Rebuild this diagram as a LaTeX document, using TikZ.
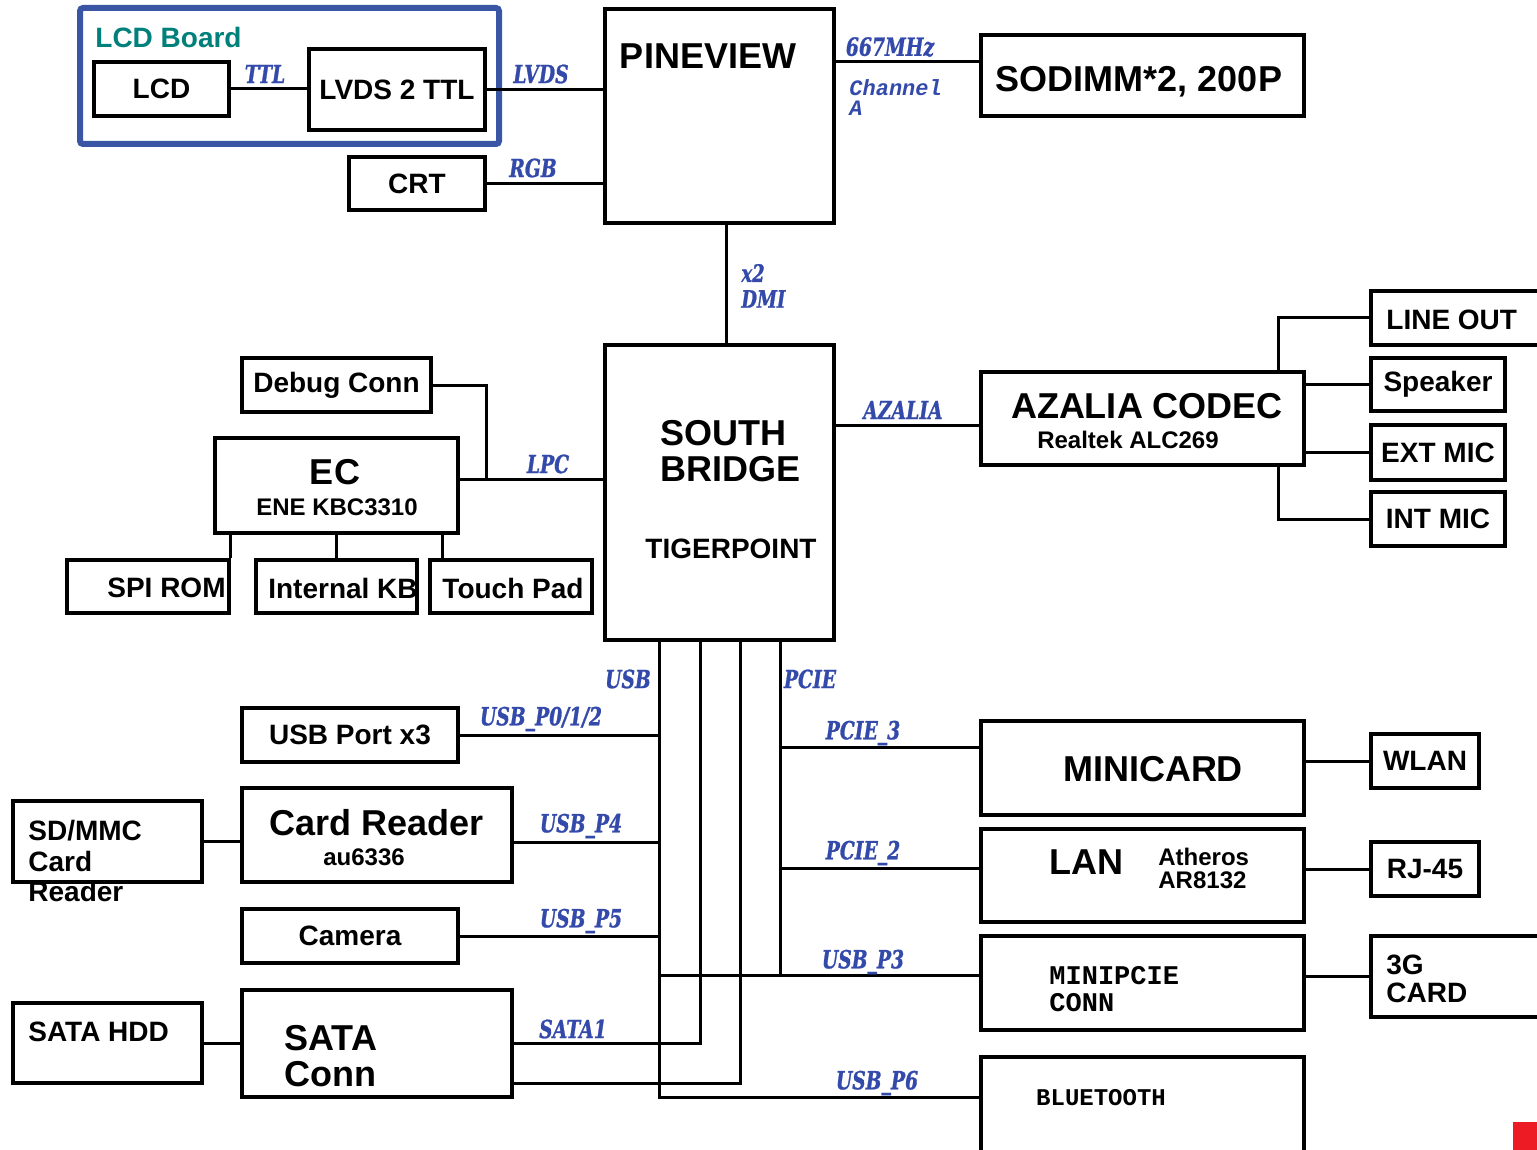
\documentclass[tikz,border=0pt]{standalone}
\usepackage{fontspec}
\setmainfont{Liberation Sans}
\newfontfamily\busfont[FakeStretch=0.75,FakeBold=1]{DejaVu Serif}
\newfontfamily\chanfont{Liberation Mono}
\usetikzlibrary{positioning,calc}
\definecolor{busblue}{RGB}{52,74,170}
\definecolor{frameblue}{RGB}{59,85,165}
\definecolor{boardteal}{RGB}{0,128,122}
\definecolor{markred}{RGB}{237,28,36}
\tikzset{
  blk/.style={draw,line width=1.7pt,inner sep=2pt,font=\bfseries},
  wire/.style={line width=1.5pt},
  lbl/.style={inner sep=0pt},
  t18/.style={font=\fontsize{18}{18}\selectfont\bfseries},
  t14/.style={font=\fontsize{14}{15}\selectfont\bfseries},
  t12/.style={font=\fontsize{12}{13}\selectfont\bfseries},
  mono/.style={inner sep=0pt,font=\chanfont\fontsize{13.5}{13.5}\selectfont\bfseries},
  bus/.style={inner sep=0pt,text=busblue,font=\busfont\fontsize{12.5}{10}\selectfont\bfseries\itshape},
}

\begin{document}
\begin{tikzpicture}[x=0.5pt,y=-0.5pt]
    \useasboundingbox (0,0) rectangle (1537,1150);

    % display side
    \node[draw=frameblue,line width=3pt,rounded corners=1.5pt,minimum width=209.5pt,minimum height=68pt] (board) at (289.5,76) {};
    \node[lbl,t14,anchor=west,text=boardteal] (boardname) at (95,37) {LCD Board};
    \node[blk,t14,minimum width=67.5pt,minimum height=27pt] (lcd) at (161.5,89) {LCD};
    \node[blk,t14,minimum width=88pt,minimum height=40.5pt] (lvds) at (397,89.5) {LVDS 2 TTL};
    \node[blk,t14,minimum width=68pt,minimum height=26.5pt] (crt) at (417,183.5) {CRT};

    % north bridge and memory
    \node[blk,minimum width=114.5pt,minimum height=107pt] (pine) at (719.5,116) {};
    \node[lbl,t18] (pinename) at (708,56) {PINEVIEW};
    \node[blk,minimum width=161.5pt,minimum height=40.5pt] (sodimm) at (1142.5,75.5) {};
    \node[lbl,t18] (sodimmname) at (1139,82) {SODIMM*2, 200P};

    % south bridge
    \node[blk,minimum width=114.5pt,minimum height=147.5pt] (sb) at (719.5,492.5) {};
    \node[lbl,t18,align=left,anchor=west] (sbname) at (660,451) {SOUTH\\BRIDGE};
    \node[lbl,t14] (sbchip) at (731,549) {TIGERPOINT};

    % EC and friends
    \node[blk,t14,minimum width=94.5pt,minimum height=27pt] (debug) at (336.5,385) {Debug Conn};
    \node[blk,minimum width=121.5pt,minimum height=47.5pt] (ec) at (336.5,485.5) {};
    \node[lbl,t18] (ecname) at (335,472) {EC};
    \node[lbl,t12] (ecchip) at (337,507) {ENE KBC3310};
    \node[blk,minimum width=81pt,minimum height=26.5pt] (spi) at (148,586.5) {};
    \node[lbl,t14,anchor=east] (spiname) at (226,588) {SPI ROM};
    \node[blk,minimum width=80.5pt,minimum height=26.5pt] (intkb) at (336.5,586.5) {};
    \node[lbl,t14] (intkbname) at (343,588) {Internal KB};
    \node[blk,minimum width=81pt,minimum height=26.5pt] (touch) at (511,586.5) {};
    \node[lbl,t14] (touchname) at (513,588) {Touch Pad};

    % audio
    \node[blk,minimum width=161.5pt,minimum height=46.5pt] (azalia) at (1142.5,418.5) {};
    \node[lbl,t18] (azname) at (1147,406) {AZALIA CODEC};
    \node[lbl,t12] (azchip) at (1128,440) {Realtek ALC269};
    \node[blk,minimum width=87pt,minimum height=27pt] (lineout) at (1458,318) {};
    \node[lbl,t14,anchor=west] (lineoutname) at (1386,320) {LINE OUT};
    \node[blk,t14,minimum width=67pt,minimum height=26.5pt] (speaker) at (1438,384.5) {Speaker};
    \node[blk,t14,minimum width=67pt,minimum height=27.5pt] (extmic) at (1438,452.5) {EXT MIC};
    \node[blk,t14,minimum width=67pt,minimum height=27pt] (intmic) at (1438,519) {INT MIC};

    % PCIE side
    \node[blk,minimum width=161.5pt,minimum height=47pt] (minicard) at (1142.5,768) {};
    \node[lbl,t18] (minicardname) at (1153,769) {MINICARD};
    \node[blk,t14,minimum width=54pt,minimum height=27pt] (wlan) at (1425,761) {WLAN};
    \node[blk,minimum width=161.5pt,minimum height=46.5pt] (lan) at (1142.5,875.5) {};
    \node[lbl,t18] (lanname) at (1086,862) {LAN};
    \node[lbl,align=left,anchor=west,font=\fontsize{12}{11.5}\selectfont\bfseries] (lanchip) at (1158,868) {Atheros\\AR8132};
    \node[blk,t14,minimum width=54pt,minimum height=27pt] (rj45) at (1425,869) {RJ-45};
    \node[blk,minimum width=161.5pt,minimum height=47pt] (minipcie) at (1142.5,983) {};
    \node[mono,anchor=west] (minipciename) at (1049,976) {MINIPCIE};
    \node[mono,anchor=west] (minipcieconn) at (1049,1003) {CONN};
    \node[blk,minimum width=87pt,minimum height=40.5pt] (card3g) at (1458,976.5) {};
    \node[lbl,align=left,anchor=west,font=\fontsize{14}{14}\selectfont\bfseries] (card3gname) at (1386,979) {3G\\CARD};
    \node[blk,minimum width=161.5pt,minimum height=51.5pt] (bt) at (1142.5,1108.5) {};
    \node[mono,font=\chanfont\fontsize{12}{12}\selectfont\bfseries] (btname) at (1101,1098) {BLUETOOTH};

    % USB / SATA side
    \node[blk,t14,minimum width=108pt,minimum height=27pt] (usbport) at (350,735) {USB Port x3};
    \node[blk,minimum width=135pt,minimum height=47pt] (cardrd) at (377,835) {};
    \node[lbl,t18] (cardrdname) at (377,823) {Card Reader};
    \node[lbl,t12] (cardrdchip) at (364,857) {au6336};
    \node[blk,minimum width=94.5pt,minimum height=40.5pt] (sdmmc) at (107.5,841.5) {};
    \node[lbl,align=left,anchor=west,font=\fontsize{14}{15.25}\selectfont\bfseries] (sdmmcname) at (28,861) {SD/MMC\\Card\\Reader};
    \node[blk,t14,minimum width=108pt,minimum height=27pt] (camera) at (350,936) {Camera};
    \node[blk,minimum width=94.5pt,minimum height=40pt] (satahdd) at (107.5,1043) {};
    \node[lbl,t14,anchor=west] (satahddname) at (28,1032) {SATA HDD};
    \node[blk,minimum width=135pt,minimum height=53.5pt] (sataconn) at (377,1043.5) {};
    \node[lbl,t18,align=left,anchor=west] (sataconnname) at (284,1056) {SATA\\Conn};

    % links
    \draw[wire] (lcd.east) -- (lcd.east -| lvds.west);
    \draw[wire] (lvds.east) -- (lvds.east -| pine.west);
    \draw[wire] (crt.east) -- (crt.east -| pine.west);
    \coordinate (memlink) at ($(sodimm.north west)!0.33!(sodimm.south west)$);
    \draw[wire] (memlink) -- (memlink -| pine.east);
    \draw[wire] ([xshift=3.25pt]pine.south) -- ([xshift=3.25pt]sb.north);

    \coordinate (lpclink) at ([yshift=3.25pt]ec.east);
    \draw[wire] (lpclink) -- (lpclink -| sb.west);
    \draw[wire] (debug.east) -| ($(lpclink)!0.184!(lpclink -| sb.west)$);
    \draw[wire] (spi.north east) -- (spi.north east |- ec.south);
    \draw[wire] (intkb.north) -- (ec.south);
    \draw[wire] ([xshift=7pt]touch.north west) -- ([xshift=7pt]touch.north west |- ec.south);

    \coordinate (hdalink) at ([yshift=-3.25pt]azalia.west);
    \draw[wire] (hdalink) -- (hdalink -| sb.east);
    \draw[wire] (lineout.west) -| ([xshift=-13.5pt]azalia.north east);
    \draw[wire] (speaker.west) -- (speaker.west -| azalia.east);
    \draw[wire] (extmic.west) -- (extmic.west -| azalia.east);
    \draw[wire] (intmic.west) -| ([xshift=-13.5pt]azalia.south east);

    \draw[wire] (wlan.west) -- (wlan.west -| minicard.east);
    \draw[wire] (rj45.west) -- (rj45.west -| lan.east);
    \draw[wire] (card3g.west) -- (card3g.west -| minipcie.east);

    % buses out of the south bridge
    \coordinate (usbbus) at ([xshift=-30.25pt]sb.south);
    \coordinate (satabusa) at ([xshift=-9.75pt]sb.south);
    \coordinate (satabusb) at ([xshift=10.25pt]sb.south);
    \coordinate (pciebus) at ([xshift=30.25pt]sb.south);
    \coordinate (usbp3) at ([yshift=4pt]minipcie.west);
    \coordinate (usbp6) at ([yshift=5.75pt]bt.west);
    \coordinate (pcie3) at ([yshift=10.5pt]minicard.west);
    \coordinate (pcie2) at ([yshift=3.75pt]lan.west);

    \draw[wire] (usbbus) |- (usbp6);
    \draw[wire] (usbbus |- usbp3) -- (usbp3);
    \draw[wire] (pciebus) -- (pciebus |- usbp3);
    \draw[wire] (pciebus |- pcie3) -- (pcie3);
    \draw[wire] (pciebus |- pcie2) -- (pcie2);
    \draw[wire] (usbport.east) -- (usbport.east -| usbbus);
    \draw[wire] ([yshift=-3.5pt]cardrd.east) -- ([yshift=-3.5pt]cardrd.east -| usbbus);
    \draw[wire] (camera.east) -- (camera.east -| usbbus);
    \draw[wire] (satabusa) |- (sataconn.east);
    \draw[wire] (satabusb) |- ([yshift=-19.75pt]sataconn.east);
    \draw[wire] (sdmmc.east) -- (sdmmc.east -| cardrd.west);
    \draw[wire] (satahdd.east) -- (satahdd.east -| sataconn.west);

    % signal names
    \node[bus] (ttl) at (265,74) {TTL};
    \node[bus] (lvdsbus) at (541,74) {LVDS};
    \node[bus] (rgb) at (533,168) {RGB};
    \node[bus] (memclk) at (890,47) {667MHz};
    \node[lbl,align=left,anchor=west,text=busblue,font=\chanfont\fontsize{11}{10}\selectfont\bfseries\itshape] (memch) at (849,98) {Channel\\A};
    \node[bus,anchor=west,font=\busfont\fontsize{12}{10}\selectfont\bfseries\itshape] (dmiwidth) at (741,273) {x2};
    \node[bus,anchor=west,font=\busfont\fontsize{12}{10}\selectfont\bfseries\itshape] (dmi) at (741,299) {DMI};
    \node[bus] (lpc) at (548,464) {LPC};
    \node[bus] (hda) at (903,410) {AZALIA};
    \node[bus] (usb) at (628,679) {USB};
    \node[bus] (pcie) at (810,679) {PCIE};
    \node[bus] (usb012) at (541,719) {USB\_P0/1/2};
    \node[bus] (usb4) at (581,826) {USB\_P4};
    \node[bus] (usb5) at (581,921) {USB\_P5};
    \node[bus] (sata1) at (573,1029) {SATA1};
    \node[bus] (pcie3name) at (863,733) {PCIE\_3};
    \node[bus] (pcie2name) at (863,853) {PCIE\_2};
    \node[bus] (usb3) at (863,962) {USB\_P3};
    \node[bus] (usb6) at (877,1083) {USB\_P6};

    \fill[markred] (1513,1122) rectangle (1537,1150);
\end{tikzpicture}
\end{document}
